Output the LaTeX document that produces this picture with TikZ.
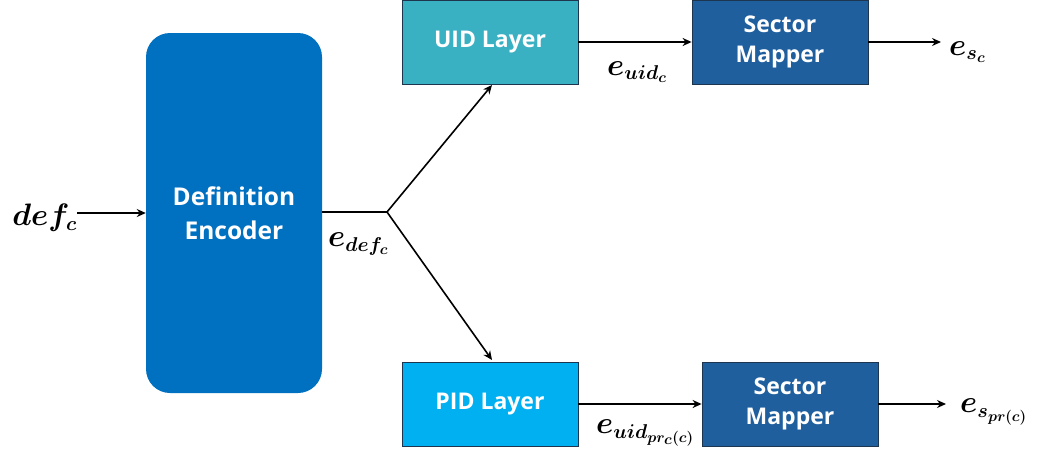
\RequirePackage{fix-cm}
\documentclass[tikz,border=0pt]{standalone}
\usepackage{fontspec}
\setsansfont{Open Sans}
\usepackage{amsmath}
\usepackage{bm}
\DeclareMathSizes{31}{31}{20}{15}
\usetikzlibrary{arrows.meta,positioning}
\definecolor{encblue}{HTML}{0070C0}
\definecolor{uidteal}{HTML}{3AB0C3}
\definecolor{pidblue}{HTML}{00B0F0}
\definecolor{secblue}{HTML}{1F5F9E}
\definecolor{edge}{HTML}{1E3550}
\tikzset{
  boxstyle/.style={draw=edge, line width=0.8pt, minimum width=176pt, minimum height=84pt, inner sep=0pt, text=white, font=\sffamily\bfseries\fontsize{23}{30}\selectfont, align=center},
  conn/.style={line width=1.6pt, -{Stealth[length=9pt,width=8pt]}},
  lbl/.style={inner sep=0pt, font=\fontsize{31}{34}\selectfont}
}
\begin{document}
\begin{tikzpicture}[x=1pt,y=-1pt]
\useasboundingbox (0,0) rectangle (1043,455);
\node[fill=encblue, rounded corners=24pt, minimum width=176pt, minimum height=360pt, inner sep=0pt, text=white, font=\sffamily\bfseries\fontsize{24.5}{34}\selectfont, align=center] (enc) at (234,213) {Definition\\Encoder};
\node[boxstyle, fill=uidteal] (uid) at (490,42) {UID Layer};
\node[boxstyle, fill=secblue] (sec1) at (780,42) {Sector\\Mapper};
\node[boxstyle, fill=pidblue] (pid) at (490,404) {PID Layer};
\node[boxstyle, fill=secblue] (sec2) at (790,404) {Sector\\Mapper};
\node[lbl, anchor=east] (def) at (77,218) {$\boldsymbol{def_c}$};
\coordinate (j) at (387,212);
\coordinate (ua) at (492,85);
\coordinate (pa) at (492,360);
\draw[conn] (def.east |- 0,213) -- (enc.west |- 0,213);
\draw[line width=1.6pt] (enc.east |- j) -- (j);
\draw[conn] (j) -- (ua);
\draw[conn] (j) -- (pa);
\draw[conn] (uid.east) -- (sec1.west);
\draw[conn] (pid.east) -- (sec2.west);
\coordinate (o1) at (941,42);
\coordinate (o2) at (946,404);
\draw[conn] (sec1.east) -- (o1);
\draw[conn] (sec2.east) -- (o2);
\node[lbl, anchor=west] (esc) at (949,52) {$\boldsymbol{e_{s_c}}$};
\node[lbl, anchor=west] (espr) at (960,412) {$\boldsymbol{e_{s_{pr(c)}}}$};
\node[lbl, anchor=west] (edef) at (328,244) {$\boldsymbol{e_{def_c}}$};
\node[lbl, anchor=west] (euid) at (607,72) {$\boldsymbol{e_{uid_c}}$};
\node[lbl, anchor=west] (euidpr) at (596,433) {$\boldsymbol{e_{uid_{pr_c(c)}}}$};
\end{tikzpicture}
\end{document}
